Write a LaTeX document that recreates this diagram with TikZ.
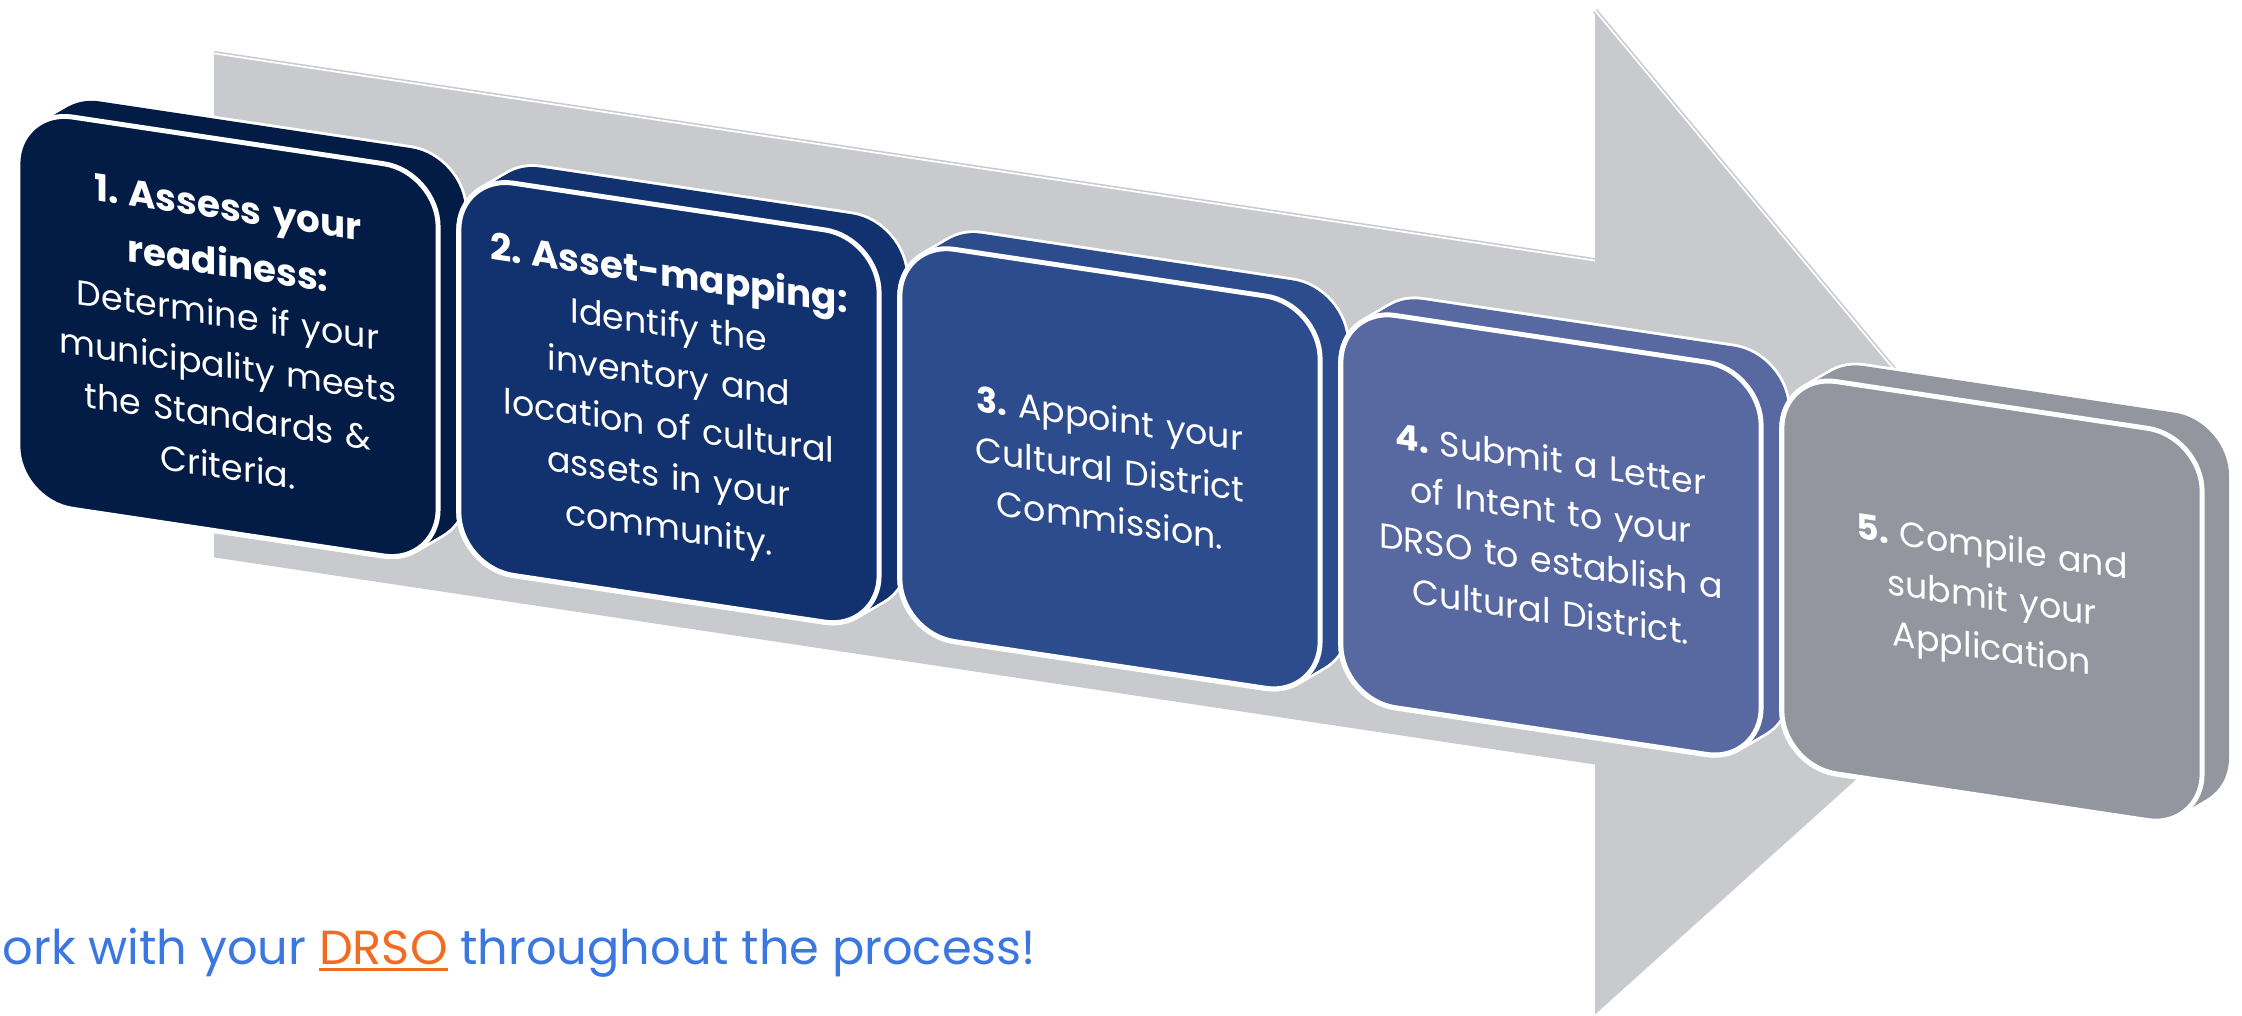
\documentclass[tikz,border=0pt]{standalone}
\usepackage{fontspec}
\setmainfont{Poppins}[Numbers=Proportional]
\definecolor{arrowgray}{HTML}{C9CACE}
\definecolor{stepone}{HTML}{031C46}
\definecolor{steptwo}{HTML}{11316F}
\definecolor{stepthree}{HTML}{2D4C8E}
\definecolor{stepfour}{HTML}{5868A0}
\definecolor{stepfive}{HTML}{93959F}
\definecolor{noteblue}{HTML}{3A77E0}
\definecolor{drsoorange}{HTML}{F26B22}
\newcommand{\steptitle}[1]{{\fontsize{10.6}{16}\selectfont\bfseries #1\par}}
\newcommand{\stepno}[1]{\textbf{#1}\hspace{0.3em}}
\newcommand{\linkline}[1]{\leavevmode\setbox0\hbox{#1}\rlap{\rule[-1.7pt]{\wd0}{0.8pt}}\box0}

\begin{document}
\begin{tikzpicture}[x=0.01cm, y=-0.01cm,
    card/.style={rectangle, rounded corners=0.55cm, minimum width=4.2cm, minimum height=3.92cm,
                 inner sep=0pt, transform shape, text=white, align=center, text width=4.1cm,
                 font=\fontsize{9.9}{14.4}\selectfont},
    face/.style={card, fill=#1, draw=white, line width=1.4pt},
    slab/.style={rounded corners=0.55cm, fill=#1}]
\useasboundingbox (0,0) rectangle (2242,1016);

\begin{scope}[shift={(18,109)}, yslant=-0.15]
\fill[arrowgray] (196,-85) -- (1577,-85) -- (1577,-335) -- (2055,167)
    -- (1577,669) -- (1577,419) -- (196,419) -- cycle;
\draw[arrowgray, line width=1.4pt] (196,-85) -- (1577,-85) (1577,-335) -- (2055,167);
\draw[white, line width=0.5pt] (196,-85) -- (1577,-85) (1577,-335) -- (2055,167);

\foreach \i/\col/\txt in {
    0/stepone/{\steptitle{1.\hspace{0.25em}Assess your\\ readiness:}Determine if your\\ municipality meets\\ the Standards \&\\ Criteria.},
    1/steptwo/{\steptitle{2.\hspace{0.25em}Asset-mapping:}Identify the\\ inventory and\\ location of cultural\\ assets in your\\ community.},
    2/stepthree/{\stepno{3.}Appoint your\\ Cultural District\\ Commission.},
    3/stepfour/{\stepno{4.}Submit a Letter\\ of Intent to your\\ DRSO to establish a\\ Cultural District.},
    4/stepfive/{\stepno{5.}Compile and\\ submit your\\ Application}} {
  \foreach \k in {0,0.1,...,1}
    \draw[white, line width=1.6pt, rounded corners=0.55cm] (\i*441+30*\k,-22*\k) rectangle ++(420,392);
  \foreach \k in {0,0.1,...,1}
    \fill[slab=\col] (\i*441+30*\k,-22*\k) rectangle ++(420,392);
  \node[face=\col] (step\i) at (\i*441+210,196) {\txt};
}
\end{scope}

\node[anchor=base west, inner sep=0pt, text=noteblue,
      font=\fontsize{13.6}{16}\selectfont] (note) at (2,965)
  {ork with your \textcolor{drsoorange}{\linkline{DRSO}} throughout the process!};
\end{tikzpicture}
\end{document}
